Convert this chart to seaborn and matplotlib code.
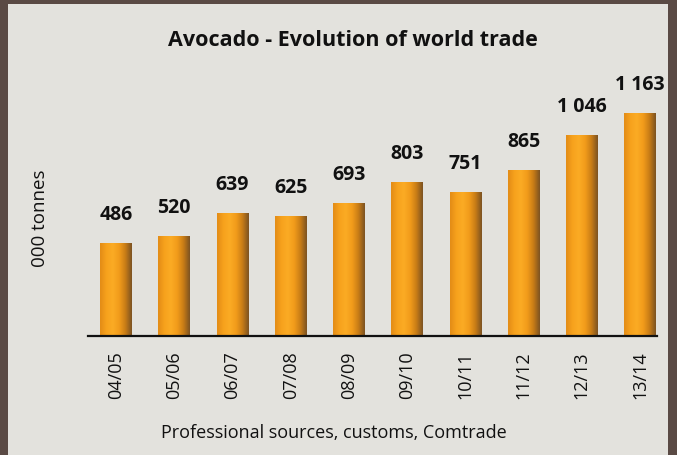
"""Avocado - Evolution of world trade (bar chart recreation)."""

import matplotlib
matplotlib.use("Agg")
import matplotlib.pyplot as plt
from matplotlib.colors import LinearSegmentedColormap
from matplotlib.patches import Rectangle
import numpy as np
import pandas as pd
import seaborn as sns

# Data
SEASONS = ["04/05", "05/06", "06/07", "07/08", "08/09",
           "09/10", "10/11", "11/12", "12/13", "13/14"]
VOLUMES = [486, 520, 639, 625, 693, 803, 751, 865, 1046, 1163]
VALUE_LABELS = ["486", "520", "639", "625", "693",
                "803", "751", "865", "1 046", "1 163"]

TITLE = "Avocado - Evolution of world trade"
Y_LABEL = "000 tonnes"
SOURCE = "Professional sources, customs, Comtrade"

BORDER = "#5a4a44"
PANEL = "#e3e2dd"
BAR = "#f5a11c"

W, H = 677, 455

sns.set_style("white")
plt.rcParams["font.family"] = ["Open Sans", "DejaVu Sans"]

fig = plt.figure(figsize=(W / 100, H / 100), dpi=100, facecolor=BORDER)
fig.patches.append(Rectangle((8 / W, 0), (668 - 8) / W, (H - 4) / H,
                             transform=fig.transFigure, facecolor=PANEL,
                             edgecolor="none", zorder=-5))

# axes box in pixels: left 88, baseline y=336, top y=96
ax = fig.add_axes([88 / W, (H - 336) / H, (657 - 88) / W, 240 / H])
ax.set_facecolor("none")
ax.set_zorder(2)

df = pd.DataFrame({"season": SEASONS, "volume": VOLUMES})
sns.barplot(data=df, x="season", y="volume", color=BAR, width=0.54,
            linewidth=0, saturation=1, ax=ax)

ax.set_xlim(-0.48, 9.29)
ax.set_ylim(0, 1163 * 240 / 223)

# cylinder-like shading on every bar, clipped to the bar patch
shade = LinearSegmentedColormap.from_list(
    "shade", ["#e38c16", "#f7a21d", "#fbab24", "#f29c1b", "#c97d16", "#7d5322"])
grad = np.linspace(0, 1, 64).reshape(1, -1)
for bar in ax.patches:
    x0, y0 = bar.get_x(), bar.get_y()
    im = ax.imshow(grad, cmap=shade, aspect="auto", interpolation="bicubic",
                   extent=(x0, x0 + bar.get_width(), y0, y0 + bar.get_height()),
                   zorder=bar.get_zorder() + 0.1)
    im.set_clip_path(bar)
ax.set_xlim(-0.48, 9.29)
ax.set_ylim(0, 1163 * 240 / 223)

for i, (v, lab) in enumerate(zip(VOLUMES, VALUE_LABELS)):
    ax.annotate(lab, (i, v), xytext=(0, 13), textcoords="offset points",
                ha="center", va="bottom", fontsize=14, fontweight="bold",
                color="#111111")

sns.despine(ax=ax, left=True, top=True, right=True)
ax.spines["bottom"].set_color("#111111")
ax.spines["bottom"].set_linewidth(1.6)
ax.spines["bottom"].set_zorder(5)
ax.set_yticks([])
ax.tick_params(axis="x", length=0, pad=11, labelsize=13, labelcolor="#111111")
plt.setp(ax.get_xticklabels(), rotation=90)
ax.set_xlabel("")
ax.set_ylabel("")

fig.text(353 / W, 1 - 40 / H, TITLE, ha="center", va="center",
         fontsize=15.5, fontweight="bold", color="#111111")
fig.text(40 / W, 1 - 218 / H, Y_LABEL, rotation=90, ha="center", va="center",
         fontsize=13.5, color="#111111")
fig.text(334 / W, 1 - 433 / H, SOURCE, ha="center", va="center",
         fontsize=13, color="#111111")

fig.savefig("out.png", dpi=100, facecolor=BORDER)
